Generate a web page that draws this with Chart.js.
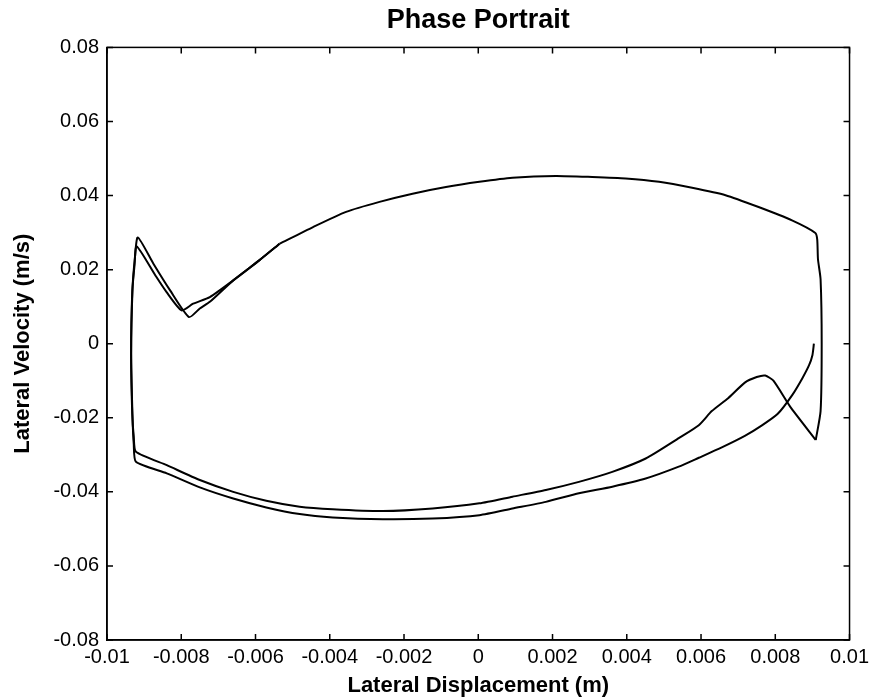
<!DOCTYPE html>
<html>
<head>
<meta charset="utf-8">
<script src="https://cdn.jsdelivr.net/npm/chart.js@4"></script>
<style>
  body { margin: 0; background: #fff; }
  #wrap { width: 874px; height: 700px; }
</style>
</head>
<body>
<div id="wrap"><canvas id="phase-chart"></canvas></div>
<script>
// first lap: starts at rest near the right edge, outer bottom arc, left edge, first spike
const lap1X = [0.00904, 0.00900, 0.00891, 0.00873, 0.00846, 0.00806, 0.00762, 0.00718, 0.00656, 0.00594,
    0.00540, 0.00451, 0.00361, 0.00271, 0.00182, 0.00092, 0.00003, -0.00123, -0.00257, -0.00392,
    -0.00481, -0.00571, -0.00660, -0.00750, -0.00839, -0.00922, -0.00928, -0.00931, -0.00935, -0.00931,
    -0.00925, -0.00917, -0.00875, -0.00830, -0.00779, -0.00750, -0.00723, -0.00660, -0.00590, -0.00535];
const lap1Y = [0.0000, -0.0031, -0.0058, -0.0093, -0.0138, -0.0190, -0.0222, -0.0249, -0.0280, -0.0308,
    -0.0332, -0.0364, -0.0386, -0.0404, -0.0427, -0.0445, -0.0463, -0.0472, -0.0474, -0.0469,
    -0.0460, -0.0442, -0.0418, -0.0388, -0.0350, -0.0319, -0.0270, -0.0206, -0.0026, 0.0153,
    0.0230, 0.0287, 0.0216, 0.0144, 0.0072, 0.0095, 0.0113, 0.0171, 0.0225, 0.0270];

// top arc and right edge (traversed on both laps)
const topX = [-0.00535, -0.00445, -0.00356, -0.00266, -0.00177, -0.00087, 0.00003, 0.00092, 0.00209, 0.00307,
    0.00397, 0.00487, 0.00576, 0.00666, 0.00755, 0.00845, 0.00908, 0.00913, 0.00915, 0.00922,
    0.00925, 0.00922, 0.00909];
const topY = [0.0270, 0.0315, 0.0356, 0.0383, 0.0405, 0.0423, 0.0437, 0.0448, 0.0453, 0.0450,
    0.0446, 0.0437, 0.0421, 0.0401, 0.0369, 0.0333, 0.0299, 0.0281, 0.0228, 0.0174,
    0.0000, -0.0182, -0.0260];

// second lap: right hump, inner bottom arc, left edge, second spike
const lap2X = [0.00909, 0.00840, 0.00795, 0.00773, 0.00750, 0.00718, 0.00673, 0.00629, 0.00594, 0.00540,
    0.00451, 0.00361, 0.00271, 0.00182, 0.00092, 0.00003, -0.00123, -0.00257, -0.00392, -0.00481,
    -0.00571, -0.00660, -0.00750, -0.00839, -0.00922, -0.00928, -0.00932, -0.00935, -0.00932, -0.00926,
    -0.00920, -0.00870, -0.00840, -0.00799, -0.00768, -0.00723, -0.00660, -0.00590, -0.00535];
const lap2Y = [-0.0260, -0.0170, -0.0100, -0.0086, -0.0090, -0.0105, -0.0147, -0.0182, -0.0220, -0.0255,
    -0.0310, -0.0346, -0.0373, -0.0395, -0.0413, -0.0431, -0.0445, -0.0452, -0.0447, -0.0440,
    -0.0424, -0.0400, -0.0368, -0.0328, -0.0292, -0.0250, -0.0190, -0.0030, 0.0140, 0.0210,
    0.0263, 0.0185, 0.0140, 0.0090, 0.0108, 0.0126, 0.0171, 0.0225, 0.0270];

function toPoints(xs, ys) {
    return xs.map((x, i) => ({x: x, y: ys[i]}));
}

function fmt(v) {
    return String(+(+v).toFixed(4));
}

const FONT = "'Liberation Sans', Arial, Helvetica, sans-serif";

// matlab style box with inward ticks on all four sides
const boxTicks = {
    id: 'boxTicks',
    afterDraw(chart) {
        const {ctx, chartArea: a, scales: {x, y}} = chart;
        const len = 6;
        ctx.save();
        ctx.strokeStyle = '#000';
        ctx.lineWidth = 1.5;
        ctx.beginPath();
        x.ticks.forEach(t => {
            const px = x.getPixelForValue(t.value);
            ctx.moveTo(px, a.bottom); ctx.lineTo(px, a.bottom - len);
            ctx.moveTo(px, a.top); ctx.lineTo(px, a.top + len);
        });
        y.ticks.forEach(t => {
            const py = y.getPixelForValue(t.value);
            ctx.moveTo(a.left, py); ctx.lineTo(a.left + len, py);
            ctx.moveTo(a.right, py); ctx.lineTo(a.right - len, py);
        });
        ctx.stroke();
        ctx.strokeRect(a.left, a.top, a.right - a.left, a.bottom - a.top);
        ctx.restore();
    }
};

const lineStyle = {
    borderColor: '#000',
    borderWidth: 2,
    pointRadius: 0,
    showLine: true,
    fill: false,
    tension: 0.2
};

new Chart(document.querySelector('#phase-chart').getContext('2d'), {
    type: 'scatter',
    data: {
        datasets: [
            Object.assign({label: 'lap 1', data: toPoints(lap1X, lap1Y)}, lineStyle),
            Object.assign({label: 'top', data: toPoints(topX, topY)}, lineStyle),
            Object.assign({label: 'lap 2', data: toPoints(lap2X, lap2Y)}, lineStyle)
        ]
    },
    options: {
        responsive: true,
        maintainAspectRatio: false,
        animation: false,
        layout: {padding: {left: 0, right: 23, top: 0, bottom: 0}},
        plugins: {
            legend: {display: false},
            tooltip: {enabled: false},
            title: {
                display: true,
                text: 'Phase Portrait',
                fullSize: false,
                color: '#000',
                font: {family: FONT, size: 27, weight: 'bold'},
                padding: {top: 4, bottom: 11}
            }
        },
        scales: {
            x: {
                type: 'linear',
                min: -0.01,
                max: 0.01,
                afterFit: s => { s.height = 60; },
                ticks: {stepSize: 0.002, color: '#000', padding: 5, maxRotation: 0,
                    font: {family: FONT, size: 20}, callback: fmt},
                grid: {display: true, drawOnChartArea: false, drawTicks: false},
                border: {display: true, color: '#000', width: 1.5},
                title: {display: true, text: 'Lateral Displacement (m)', color: '#000',
                    font: {family: FONT, size: 22, weight: 'bold'}, padding: {top: 0, bottom: 1}}
            },
            y: {
                type: 'linear',
                min: -0.08,
                max: 0.08,
                afterFit: s => { s.width = 107; },
                ticks: {stepSize: 0.02, color: '#000', padding: 8,
                    font: {family: FONT, size: 20}, callback: fmt},
                grid: {display: true, drawOnChartArea: false, drawTicks: false},
                border: {display: true, color: '#000', width: 1.5},
                title: {display: true, text: 'Lateral Velocity (m/s)', color: '#000',
                    font: {family: FONT, size: 22, weight: 'bold'}, padding: {top: 10, bottom: 0}}
            }
        }
    },
    plugins: [boxTicks]
});
</script>
</body>
</html>
